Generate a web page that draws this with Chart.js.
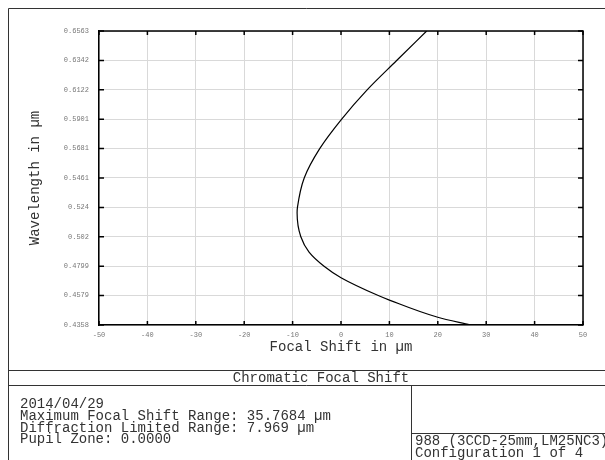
<!DOCTYPE html>
<html>
<head>
<meta charset="utf-8">
<script src="https://cdn.jsdelivr.net/npm/chart.js@4.4.1/dist/chart.umd.min.js"></script>
<style>
  html, body { margin: 0; padding: 0; background: #fff; }
  #wrap { width: 605px; height: 460px; }
</style>
</head>
<body>
<div id="wrap"><canvas id="c" width="605" height="460"></canvas></div>
<script>
const wavelengths = [0.4358, 0.4416, 0.4545, 0.4579, 0.4713, 0.4799, 0.4905, 0.502, 0.5198, 0.524, 0.5461, 0.5681, 0.5901, 0.6122, 0.6342, 0.6563];
const focalShift  = [26.7,   20.0,   10.0,   7.7,    0.0,    -3.5,   -6.6,   -8.3,  -9.07,  -9.0,  -7.6,   -4.4,   0.1,    5.4,    11.5,   17.7];

const xTickLabels = ['-50', '-40', '-30', '-20', '-10', '0', '10', '20', '30', '40', '50'];
const yTickLabels = ['0.4358', '0.4579', '0.4799', '0.502', '0.524', '0.5461', '0.5681', '0.5901', '0.6122', '0.6342', '0.6563'];

const infoLines = [
  '2014/04/29',
  'Maximum Focal Shift Range: 35.7684 µm',
  'Diffraction Limited Range: 7.969 µm',
  'Pupil Zone: 0.0000'
];
const fileLines = ['988 (3CCD-25mm,LM25NC3).ZMX', 'Configuration 1 of 4'];
const plotTitle = 'Chromatic Focal Shift';

const xTicks = xTickLabels.map(Number);
const yTicks = yTickLabels.map(Number);
const MONO = '"Liberation Mono", "Courier New", monospace';

// inward ticks, top/right border, and the text boxes under the plot
const framePlugin = {
  id: 'framePlugin',
  afterDraw(chart) {
    const { ctx, chartArea: a, scales: { x, y } } = chart;
    ctx.save();
    ctx.strokeStyle = '#000';
    ctx.lineWidth = 1.5;
    ctx.beginPath();
    ctx.moveTo(a.left, a.top); ctx.lineTo(a.right, a.top); ctx.lineTo(a.right, a.bottom);
    ctx.stroke();

    ctx.beginPath();
    xTicks.forEach(v => {
      const px = x.getPixelForValue(v);
      ctx.moveTo(px, a.top); ctx.lineTo(px, a.top + 4);
      ctx.moveTo(px, a.bottom); ctx.lineTo(px, a.bottom - 4);
    });
    yTicks.forEach(v => {
      const py = y.getPixelForValue(v);
      ctx.moveTo(a.left, py); ctx.lineTo(a.left + 5, py);
      ctx.moveTo(a.right, py); ctx.lineTo(a.right - 5, py);
    });
    ctx.stroke();

    // outer frame + boxes
    ctx.lineWidth = 1;
    ctx.strokeStyle = '#333';
    ctx.beginPath();
    ctx.moveTo(8.5, 460); ctx.lineTo(8.5, 8.5); ctx.lineTo(605, 8.5);
    ctx.moveTo(8.5, 370.5); ctx.lineTo(605, 370.5);
    ctx.moveTo(8.5, 385.5); ctx.lineTo(605, 385.5);
    ctx.moveTo(411.5, 385.5); ctx.lineTo(411.5, 460);
    ctx.moveTo(411.5, 433.5); ctx.lineTo(605, 433.5);
    ctx.stroke();

    ctx.fillStyle = '#333';
    ctx.font = '14px ' + MONO;
    ctx.textBaseline = 'alphabetic';
    ctx.textAlign = 'center';
    ctx.fillText(plotTitle, 321, 382);
    ctx.textAlign = 'left';
    [408, 420, 431.5, 443].forEach((yy, i) => ctx.fillText(infoLines[i], 20, yy));
    [445, 456.5].forEach((yy, i) => ctx.fillText(fileLines[i], 415, yy));
    ctx.restore();
  }
};

new Chart(document.getElementById('c'), {
  type: 'line',
  data: {
    datasets: [{
      data: wavelengths.map((w, i) => ({ x: focalShift[i], y: w })),
      borderColor: '#000',
      borderWidth: 1.2,
      pointRadius: 0,
      fill: false,
      cubicInterpolationMode: 'monotone'
    }]
  },
  options: {
    indexAxis: 'y',
    responsive: false,
    animation: false,
    layout: { padding: { top: 31, right: 22, bottom: 105, left: 0 } },
    plugins: { legend: { display: false }, tooltip: { enabled: false } },
    scales: {
      x: {
        type: 'linear',
        min: -50, max: 50,
        afterBuildTicks: s => { s.ticks = xTicks.map(v => ({ value: v })); },
        afterFit: s => { s.height = 30; },
        grid: { color: '#d9d9d9', lineWidth: 1, drawTicks: false },
        border: { color: '#000', width: 1.5 },
        ticks: {
          padding: 6,
          color: '#777',
          font: { family: MONO, size: 7 },
          callback: (v, i) => xTickLabels[i]
        },
        title: {
          display: true,
          text: 'Focal Shift in µm',
          color: '#333',
          font: { family: MONO, size: 14, lineHeight: 1.1 },
          padding: { top: 0, bottom: 0 }
        }
      },
      y: {
        type: 'linear',
        min: 0.4358, max: 0.6563,
        afterBuildTicks: s => { s.ticks = yTicks.map(v => ({ value: v })); },
        afterFit: s => { s.width = 99; },
        grid: { color: '#d9d9d9', lineWidth: 1, drawTicks: false },
        border: { color: '#000', width: 1.5 },
        ticks: {
          padding: 10,
          color: '#777',
          font: { family: MONO, size: 7 },
          callback: (v, i) => yTickLabels[i]
        },
        title: {
          display: true,
          text: 'Wavelength in µm',
          color: '#333',
          font: { family: MONO, size: 14 },
          padding: { top: 27, bottom: 0 }
        }
      }
    }
  },
  plugins: [framePlugin]
});
</script>
</body>
</html>
